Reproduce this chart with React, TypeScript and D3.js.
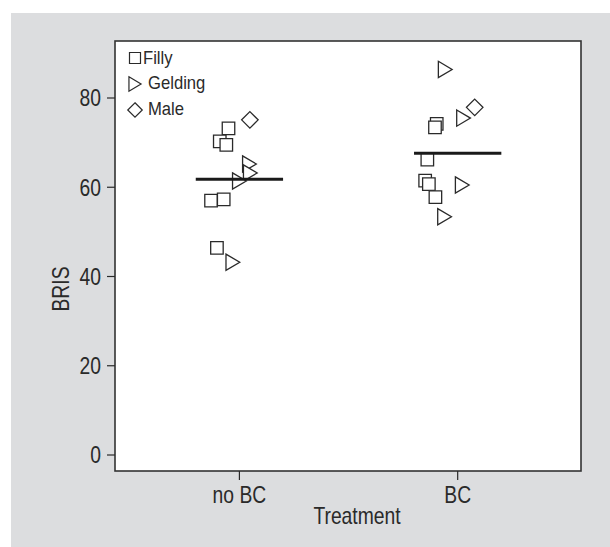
import * as d3 from "d3";
import React from "react";

// categories and legend
const categories = ["no BC", "BC"];
const sexes = ["Filly", "Gelding", "Male"];
const yTicks = [0, 20, 40, 60, 80];

// no BC group
const noBCSex = ["Male", "Filly", "Filly", "Filly", "Gelding", "Gelding", "Gelding", "Filly", "Filly", "Filly", "Gelding"];
const noBCValues = [75.1, 73.2, 70.3, 69.5, 65.2, 63.2, 61.4, 57.0, 57.3, 46.4, 43.2];
const noBCJitter = [0.048, -0.05, -0.09, -0.06, 0.046, 0.05, 0.0, -0.13, -0.072, -0.103, -0.03];

// BC group
const bcSex = ["Gelding", "Male", "Gelding", "Filly", "Filly", "Filly", "Filly", "Filly", "Filly", "Gelding", "Gelding"];
const bcValues = [86.4, 77.9, 75.5, 74.2, 73.4, 66.2, 61.5, 60.7, 57.8, 60.5, 53.4];
const bcJitter = [-0.057, 0.078, 0.027, -0.096, -0.104, -0.139, -0.149, -0.132, -0.102, 0.021, -0.06];

const groupMeans = [61.8, 67.6];

const W = 610, H = 547;
const frame = { left: 115, top: 41, right: 581, bottom: 471 };
const font = "'Liberation Sans', Arial, Helvetica, sans-serif";
const ink = "#2a2a2a";

function markerPath(sex, cx, cy, s) {
  if (sex === "Filly") {
    return `M${cx - s / 2},${cy - s / 2}h${s}v${s}h${-s}Z`;
  }
  if (sex === "Gelding") {
    const w = s * 1.1, h = s * 1.3;
    return `M${cx - w / 2},${cy - h / 2}L${cx + w / 2},${cy}L${cx - w / 2},${cy + h / 2}Z`;
  }
  const r = s * 0.66;
  return `M${cx},${cy - r}L${cx + r},${cy}L${cx},${cy + r}L${cx - r},${cy}Z`;
}

// condensed-looking label: squeeze the glyphs horizontally
const Label = ({ x, y, size, sx = 0.84, anchor = "start", dy = "0", rotate = 0, children }) => (
  <text transform={`translate(${x},${y}) rotate(${rotate}) scale(${sx},1)`} textAnchor={anchor} dy={dy}
    fontSize={size} fill={ink}>{children}</text>
);

export default function App() {
  const x = d3.scaleLinear().domain([0.43, 2.565]).range([frame.left, frame.right]);
  const y = d3.scaleLinear().domain([0, 80]).range([455, 98]);

  const points = [
    ...noBCValues.map((v, i) => ({ g: 1, v, sex: noBCSex[i], j: noBCJitter[i] })),
    ...bcValues.map((v, i) => ({ g: 2, v, sex: bcSex[i], j: bcJitter[i] })),
  ];

  return (
    <svg width={W} height={H} style={{ position: "absolute", left: 0, top: 0 }} fontFamily={font}>
      <rect x={11} y={13} width={W - 11} height={H - 13} fill="#dcdddf" />
      <rect x={frame.left} y={frame.top} width={frame.right - frame.left} height={frame.bottom - frame.top}
        fill="#fff" stroke="#333" strokeWidth={1.6} />

      {/* y axis */}
      {yTicks.map((t) => (
        <g key={t}>
          <line x1={frame.left - 8} x2={frame.left} y1={y(t)} y2={y(t)} stroke={ink} strokeWidth={1.2} />
          <Label x={frame.left - 14} y={y(t)} dy="0.36em" anchor="end" size={23}>{t}</Label>
        </g>
      ))}
      <Label x={61} y={289} rotate={-90} anchor="middle" dy="0.36em" size={23}>BRIS</Label>

      {/* x axis */}
      {categories.map((c, i) => (
        <g key={c}>
          <line x1={x(i + 1)} x2={x(i + 1)} y1={frame.bottom} y2={frame.bottom + 9} stroke={ink} strokeWidth={1.2} />
          <Label x={x(i + 1)} y={503} anchor="middle" size={23}>{c}</Label>
        </g>
      ))}
      <Label x={357} y={524} anchor="middle" size={23}>Treatment</Label>

      {/* points */}
      {points.map((p, i) => (
        <path key={i} d={markerPath(p.sex, x(p.g + p.j), y(p.v), 12.5)} fill="#fff" stroke={ink} strokeWidth={1.3} />
      ))}

      {/* group means */}
      {groupMeans.map((m, i) => (
        <line key={i} x1={x(i + 1 - 0.2)} x2={x(i + 1 + 0.2)} y1={y(m)} y2={y(m)} stroke="#1a1a1a" strokeWidth={3} />
      ))}

      {/* legend */}
      {sexes.map((s, i) => (
        <g key={s}>
          <path d={markerPath(s, 135, 58 + i * 26, 11)} fill="#fff" stroke={ink} strokeWidth={1.2} />
          <Label x={i === 0 ? 143 : 148} y={63.5 + i * 25.7} size={18.5} sx={0.9}>{s}</Label>
        </g>
      ))}
    </svg>
  );
}
